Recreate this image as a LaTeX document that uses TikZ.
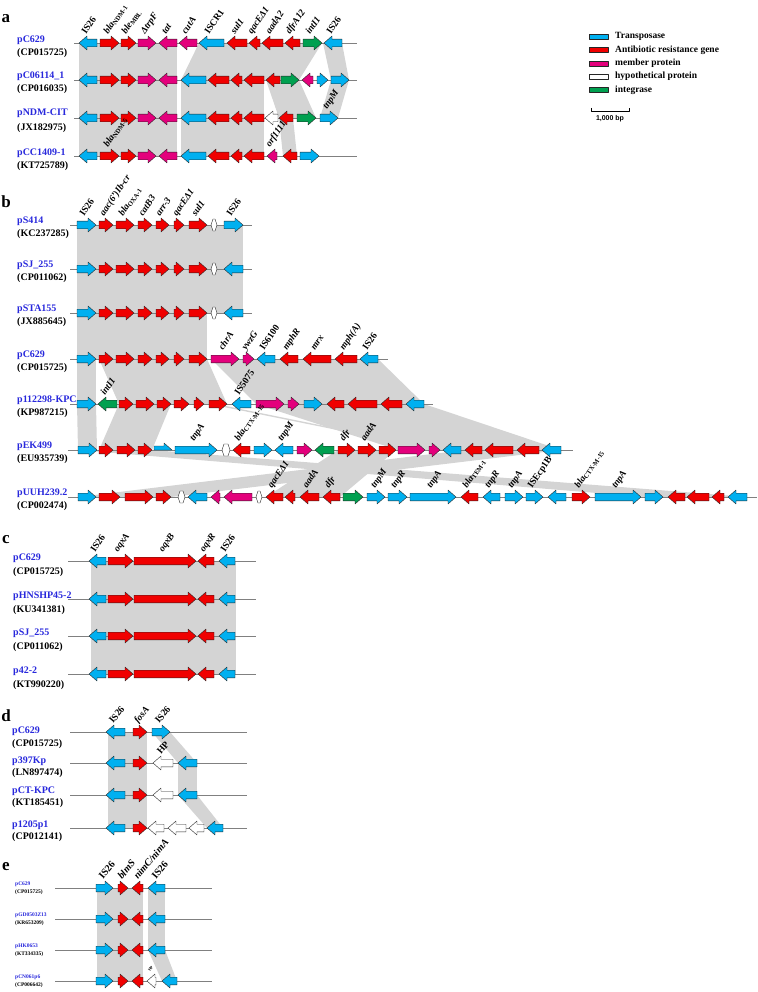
\documentclass[tikz,border=0pt]{standalone}
\usepackage{fontspec}
\setmainfont{Liberation Serif}
\newfontfamily\barfont{Liberation Sans}
\begin{document}
\begin{tikzpicture}[x=1pt,y=-1pt,line join=round,font=\bfseries\fontsize{10}{11}\selectfont]
		\definecolor{tpblue}{RGB}{0,176,240}
		\definecolor{abred}{RGB}{240,0,0}
		\definecolor{mpink}{RGB}{228,0,124}
		\definecolor{intgreen}{RGB}{0,160,80}
		\definecolor{hom}{RGB}{212,212,212}
		\definecolor{plblue}{RGB}{40,40,220}
		\tikzset{
			gene/.style={draw=black!85,line width=0.4pt},
			band/.style={fill=hom},
			bbone/.style={draw=gray,line width=0.5pt},
			glab/.style={rotate=56,anchor=base west,inner sep=0pt,font=\bfseries\itshape\fontsize{9.5}{9.5}\selectfont},
			ulab/.style={glab,font=\bfseries\fontsize{9.5}{9.5}\selectfont},
			pname/.style={anchor=west,inner sep=0pt,text=plblue},
			pacc/.style={anchor=west,inner sep=0pt},
			panel/.style={inner sep=0pt,font=\bfseries\fontsize{17}{17}\selectfont}
		}
		\def\gR#1#2#3#4{\pgfmathsetmacro\hd{max(#1,#2-8)}
			\draw[gene,fill=#4] (#1,#3-3.8)--(\hd,#3-3.8)--(\hd,#3-7)--(#2,#3)--(\hd,#3+7)--(\hd,#3+3.8)--(#1,#3+3.8)--cycle;}
		\def\gL#1#2#3#4{\pgfmathsetmacro\hd{min(#2,#1+8)}
			\draw[gene,fill=#4] (#2,#3-3.8)--(\hd,#3-3.8)--(\hd,#3-7)--(#1,#3)--(\hd,#3+7)--(\hd,#3+3.8)--(#2,#3+3.8)--cycle;}
		\def\hexg#1#2#3{\draw[gene,fill=white] (#1,#3)--(#1+2,#3-6)--(#2-2,#3-6)--(#2,#3)--(#2-2,#3+6)--(#1+2,#3+6)--cycle;}
		\def\gl#1#2#3{\node[glab] (l#1-#2) at (#1-2,#2-8) {#3};}
		\def\gu#1#2#3{\node[ulab] (u#1-#2) at (#1-2,#2-8) {#3};}
		\def\pl#1#2#3#4#5{\node[pname] (n#2) at (#1,#2) {#4}; \node[pacc] (c#3) at (#1,#3) {#5};}
		\useasboundingbox (0,0) rectangle (757,992);
		
		%%% a
		\node[panel] (pa) at (6,19) {a};
		\pl{17}{40}{53}{pC629}{(CP015725)}
		\pl{17}{76}{89}{pC06114\_1}{(CP016035)}
		\pl{17}{113}{128}{pNDM-CIT}{(JX182975)}
		\pl{17}{153}{166}{pCC1409-1}{(KT725789)}
		\fill[band] (79,43) rectangle (177,156);
		\fill[band] (199,43)--(322,43)--(299,80)--(181,80)--cycle;
		\fill[band] (323,43)--(342,43)--(349,80)--(331,80)--cycle;
		\fill[band] (181,80) rectangle (264,156);
		\fill[band] (266,80)--(299,80)--(316,118)--(279,118)--cycle;
		\fill[band] (331,80)--(349,80)--(338,118)--(320,118)--cycle;
		\fill[band] (279,118)--(293,118)--(297,156)--(283,156)--cycle;
		\foreach \y in {43,80,118,156}{
			\draw[bbone] (74,\y)--(357,\y);
			\gL{79}{97}{\y}{tpblue}
			\gR{100}{119}{\y}{abred}
			\gR{121}{136}{\y}{abred}
			\gR{138}{156}{\y}{mpink}
			\gL{159}{177}{\y}{mpink}
		}
		\gL{179}{197}{43}{mpink}
		\gL{199}{224}{43}{tpblue}
		\gL{227}{247}{43}{abred}
		\gL{249}{260}{43}{abred}
		\gL{262}{283}{43}{abred}
		\gL{285}{300}{43}{abred}
		\gR{303}{322}{43}{intgreen}
		\gL{324}{342}{43}{tpblue}
		\foreach \y in {80,118,156}{
			\gL{181}{206}{\y}{tpblue}
			\gL{208}{229}{\y}{abred}
			\gL{231}{242}{\y}{abred}
			\gL{244}{264}{\y}{abred}
		}
		\gL{266}{280}{80}{abred}
		\gR{281}{299}{80}{intgreen}
		\gL{302}{313}{80}{mpink}
		\gR{317}{328}{80}{tpblue}
		\gR{331}{349}{80}{tpblue}
		\gL{265}{278}{118}{white}
		\gL{279}{293}{118}{abred}
		\gR{297}{316}{118}{intgreen}
		\gR{320}{338}{118}{tpblue}
		\gL{267}{277}{156}{mpink}
		\gL{283}{297}{156}{abred}
		\gR{300}{319}{156}{tpblue}
		\gu{88}{43}{IS26}
		\gl{110}{43}{bla\textsubscript{\upshape NDM-1}}
		\gl{128}{43}{ble\textsubscript{\upshape MBL}}
		\gl{147}{43}{ΔtrpF}
		\gl{168}{43}{tat}
		\gl{188}{43}{cutA}
		\gu{211}{43}{ISCR1}
		\gl{237}{43}{sul1}
		\gl{254}{43}{qacEΔ1}
		\gl{272}{43}{aadA2}
		\gl{292}{43}{dfrA12}
		\gl{312}{43}{intI1}
		\gu{333}{43}{IS26}
		\gl{329}{118}{tnpM}
		\gl{110}{156}{bla\textsubscript{\upshape NDM-5}}
		\gl{272}{156}{orf1111}
		
		% legend
		\foreach \c/\t [count=\i] in {tpblue/Transposase,abred/Antibiotic resistance gene,mpink/member protein,white/hypothetical protein,intgreen/integrase}{
			\pgfmathsetmacro\ly{23.5+13.3*\i}
			\draw[gene,fill=\c] (589,\ly-2.5) rectangle (608,\ly+2.5);
			\node[anchor=west,inner sep=0pt,font=\bfseries\fontsize{9.5}{10}\selectfont] (leg\i) at (615,\ly) {\t};
		}
		\draw[line width=0.8pt] (591,108)--(591,111)--(629,111)--(629,108);
		\node[inner sep=0pt,font=\barfont\bfseries\fontsize{7}{7}\selectfont] (bar) at (610,119) {1,000 bp};
		
		%%% b
		\node[panel] (pb) at (6,202) {b};
		\pl{17}{221}{234}{pS414}{(KC237285)}
		\pl{17}{265}{278}{pSJ\_255}{(CP011062)}
		\pl{17}{309}{322}{pSTA155}{(JX885645)}
		\pl{17}{355}{368}{pC629}{(CP015725)}
		\pl{17}{400}{413}{p112298-KPC}{(KP987215)}
		\pl{17}{446}{459}{pEK499}{(EU935739)}
		\pl{17}{493}{506}{pUUH239.2}{(CP002474)}
		\fill[band] (77,225) rectangle (243,313);
		\fill[band] (77,313) rectangle (207,359);
		\fill[band] (77,359) rectangle (96,404);
		\fill[band] (99,359)--(207,359)--(227,404)--(119,404)--cycle;
		\fill[band] (211,359)--(378,359)--(424,404)--(256,404)--cycle;
		\fill[band] (77,404)--(96,404)--(97,450)--(78,450)--cycle;
		\fill[band] (119,404)--(171,404)--(152,450)--(99,450)--cycle;
		\fill[band] (256,404)--(424,404)--(561,450)--(398,450)--cycle;
		\fill[band] (209,404)--(216,404)--(443,450)--(436,450)--cycle;
		\fill[band] (78,450)--(152,450)--(747,497)--(645,497)--cycle;
		\fill[band] (78,497)--(171,497)--(561,450)--(465,450)--cycle;
		\fill[band] (266,497)--(340,497)--(396,450)--(338,450)--cycle;
		\foreach \y in {225,269,313}{\draw[bbone] (70,\y)--(252,\y);}
		\draw[bbone] (70,359)--(388,359);
		\draw[bbone] (70,404)--(433,404);
		\draw[bbone] (68,450)--(573,450);
		\draw[bbone] (68,497)--(757,497);
		\foreach \y in {225,269,313,359}{
			\gR{77}{96}{\y}{tpblue}
			\gR{99}{113}{\y}{abred}
			\gR{116}{134}{\y}{abred}
			\gR{138}{152}{\y}{abred}
			\gR{156}{169}{\y}{abred}
			\gR{174}{184}{\y}{abred}
			\gR{189}{207}{\y}{abred}
		}
		\foreach \y in {225,269,313}{\hexg{211}{217}{\y}}
		\gR{224}{243}{225}{tpblue}
		\gL{224}{243}{269}{tpblue}
		\gL{224}{243}{313}{tpblue}
		\gR{211}{239}{359}{mpink}
		\gR{243}{254}{359}{mpink}
		\gL{257}{275}{359}{tpblue}
		\gL{280}{298}{359}{abred}
		\gL{303}{331}{359}{abred}
		\gL{335}{357}{359}{abred}
		\gL{360}{378}{359}{tpblue}
		% p112298-KPC
		\gR{77}{96}{404}{tpblue}
		\gL{98}{117}{404}{intgreen}
		\gR{119}{133}{404}{abred}
		\gR{136}{154}{404}{abred}
		\gR{157}{171}{404}{abred}
		\gR{174}{189}{404}{abred}
		\gR{194}{204}{404}{abred}
		\gR{209}{227}{404}{abred}
		\gL{232}{251}{404}{tpblue}
		\gR{256}{284}{404}{mpink}
		\gR{288}{299}{404}{mpink}
		\gR{304}{322}{404}{tpblue}
		\gL{327}{344}{404}{abred}
		\gL{348}{377}{404}{abred}
		\gL{381}{402}{404}{abred}
		\gL{406}{424}{404}{tpblue}
		% pEK499
		\gR{78}{97}{450}{tpblue}
		\gR{99}{113}{450}{abred}
		\gR{117}{135}{450}{abred}
		\gR{138}{152}{450}{abred}
		\draw[gene,fill=tpblue] (154,446)--(164,446)--(164,443)--(172,450)--(154,450)--cycle;
		\gR{175}{217}{450}{tpblue}
		\hexg{222}{230}{450}
		\gL{233}{250}{450}{abred}
		\gR{254}{272}{450}{tpblue}
		\gL{275}{293}{450}{tpblue}
		\gR{297}{312}{450}{mpink}
		\gL{315}{334}{450}{intgreen}
		\gR{338}{355}{450}{abred}
		\gR{358}{376}{450}{abred}
		\gR{379}{396}{450}{abred}
		\gR{398}{425}{450}{mpink}
		\gR{429}{440}{450}{mpink}
		\gL{443}{461}{450}{tpblue}
		\gL{465}{482}{450}{abred}
		\gL{485}{513}{450}{abred}
		\gL{517}{539}{450}{abred}
		\gL{542}{561}{450}{tpblue}
		% pUUH239.2
		\gR{78}{96}{497}{tpblue}
		\gR{99}{120}{497}{abred}
		\gR{125}{153}{497}{abred}
		\gR{156}{171}{497}{abred}
		\hexg{178}{185}{497}
		\gL{188}{207}{497}{tpblue}
		\gL{211}{220}{497}{mpink}
		\gL{224}{252}{497}{mpink}
		\hexg{256}{262}{497}
		\gL{266}{283}{497}{abred}
		\gL{285}{295}{497}{abred}
		\gL{300}{319}{497}{abred}
		\gL{323}{340}{497}{abred}
		\gR{343}{363}{497}{intgreen}
		\gR{367}{385}{497}{tpblue}
		\gR{388}{407}{497}{tpblue}
		\gR{410}{456}{497}{tpblue}
		\gL{461}{478}{497}{abred}
		\gL{483}{500}{497}{tpblue}
		\gR{505}{523}{497}{tpblue}
		\gR{526}{543}{497}{tpblue}
		\gL{548}{566}{497}{tpblue}
		\gR{572}{590}{497}{abred}
		\gR{595}{641}{497}{tpblue}
		\gR{645}{663}{497}{tpblue}
		\gL{668}{685}{497}{abred}
		\gL{687}{709}{497}{abred}
		\gL{712}{724}{497}{abred}
		\gL{728}{747}{497}{tpblue}
		\gu{86}{225}{IS26}
		\gl{106}{225}{aac(6')Ib-cr}
		\gl{125}{225}{bla\textsubscript{\upshape OXA-1}}
		\gl{145}{225}{catB3}
		\gl{162}{225}{arr-3}
		\gl{179}{225}{qacEΔ1}
		\gl{198}{225}{sul1}
		\gu{233}{225}{IS26}
		\gl{225}{359}{chrA}
		\gl{248}{359}{ywzG}
		\gu{266}{359}{IS6100}
		\gl{289}{359}{mphR}
		\gl{317}{359}{mrx}
		\gl{346}{359}{mph(A)}
		\gu{369}{359}{IS26}
		\gl{107}{404}{intI1}
		\gu{241}{404}{IS5075}
		\gl{196}{450}{tnpA}
		\gl{241}{450}{bla\textsubscript{\upshape CTX-M-15}}
		\gl{284}{450}{tnpM}
		\gl{346}{450}{dfr}
		\gl{367}{450}{aadA}
		\gl{274}{497}{qacEΔ1}
		\gl{309}{497}{aadA}
		\gl{331}{497}{dfr}
		\gl{377}{497}{tnpM}
		\gl{397}{497}{tnpR}
		\gl{433}{497}{tnpA}
		\gl{469}{497}{bla\textsubscript{\upshape TEM-1}}
		\gl{491}{497}{tnpR}
		\gl{514}{497}{tnpA}
		\gu{534}{497}{ISEcp1B}
		\gl{581}{497}{bla\textsubscript{\upshape CTX-M-15}}
		\gl{618}{497}{tnpA}
		
		%%% c
		\node[panel] (pc) at (6,540) {c};
		\pl{13}{558}{572}{pC629}{(CP015725)}
		\pl{13}{596}{610}{pHNSHP45-2}{(KU341381)}
		\pl{13}{633}{647}{pSJ\_255}{(CP011062)}
		\pl{13}{671}{685}{p42-2}{(KT990220)}
		\fill[band] (91,561) rectangle (236,674);
		\foreach \y in {561,599,636,674}{
			\draw[bbone] (68,\y)--(256,\y);
			\gL{89}{106}{\y}{tpblue}
			\gR{108}{133}{\y}{abred}
			\gR{134}{196}{\y}{abred}
			\gL{198}{214}{\y}{abred}
			\gL{219}{235}{\y}{tpblue}
		}
		\gu{97}{561}{IS26}
		\gl{120}{561}{oqxA}
		\gl{165}{561}{oqxB}
		\gl{206}{561}{oqxR}
		\gu{227}{561}{IS26}
		
		%%% d
		\node[panel] (pd) at (6,716) {d};
		\pl{12}{731}{744}{pC629}{(CP015725)}
		\pl{12}{761}{773}{p397Kp}{(LN897474)}
		\pl{12}{791}{803}{pCT-KPC}{(KT185451)}
		\pl{12}{825}{837}{p1205p1}{(CP012141)}
		\fill[band] (108,732) rectangle (147,828);
		\fill[band] (152,732)--(170,732)--(197,763)--(178,763)--cycle;
		\fill[band] (178,763) rectangle (197,795);
		\fill[band] (178,795)--(197,795)--(223,828)--(207,828)--cycle;
		\foreach \y in {732,763,795,828}{
			\draw[bbone] (70,\y)--(247,\y);
			\gL{106}{125}{\y}{tpblue}
			\gR{133}{147}{\y}{abred}
		}
		\gR{152}{170}{732}{tpblue}
		\foreach \y in {763,795}{
			\gL{153}{173}{\y}{white}
			\gL{178}{197}{\y}{tpblue}
		}
		\gL{148}{164}{828}{white}
		\gL{168}{186}{828}{white}
		\gL{189}{204}{828}{white}
		\gL{207}{223}{828}{tpblue}
		\begin{scope}[glab/.append style={rotate=-6}]
			\gu{115}{732}{IS26}
			\gl{140}{732}{fosA}
			\gu{161}{732}{IS26}
			\gu{163}{763}{HP}
		\end{scope}
		
		%%% e
		\node[panel] (pe) at (6,867) {e};
		\begin{scope}[pname/.append style={font=\bfseries\fontsize{5.5}{6}\selectfont},pacc/.append style={font=\bfseries\fontsize{5.5}{6}\selectfont}]
			\pl{15}{884}{892}{pC629}{(CP015725)}
			\pl{15}{915}{923}{pGD0503Z13}{(KR653209)}
			\pl{15}{946}{954}{pHK0653}{(KT334335)}
			\pl{15}{977}{985}{pCN061p6}{(CP006642)}
		\end{scope}
		\fill[band] (97,888) rectangle (143,981);
		\fill[band] (148,888) rectangle (165,950);
		\fill[band] (148,950)--(165,950)--(177,981)--(162,981)--cycle;
		\foreach \y in {888,919,950,981}{
			\draw[bbone] (55,\y)--(212,\y);
			\gR{96}{113}{\y}{tpblue}
			\gR{118}{128}{\y}{abred}
			\gL{132}{143}{\y}{abred}
		}
		\foreach \y in {888,919,950}{\gL{148}{165}{\y}{tpblue}}
		\gL{147}{156}{981}{white}
		\gL{162}{177}{981}{tpblue}
		\begin{scope}[glab/.append style={rotate=-6,font=\bfseries\itshape\fontsize{10}{10}\selectfont},ulab/.append style={font=\bfseries\fontsize{10}{10}\selectfont}]
			\gu{105}{888}{IS26}
			\gl{124}{888}{blmS}
			\gl{140}{888}{nimC/nimA}
			\gu{158}{888}{IS26}
		\end{scope}
		\node[ulab,font=\bfseries\fontsize{4}{4}\selectfont] (hpe) at (150,972) {HP};
	\end{tikzpicture}
\end{document}
